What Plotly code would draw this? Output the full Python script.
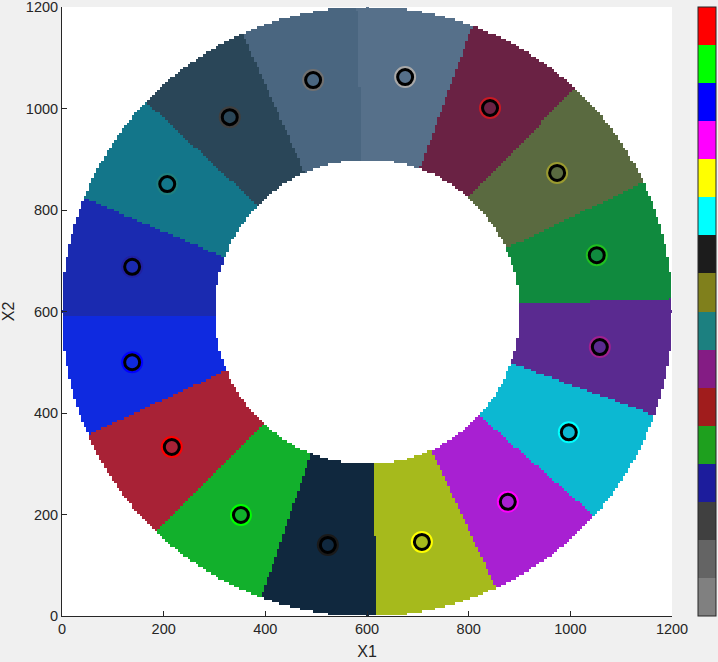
import numpy as np
import plotly.graph_objects as go

# cluster centroids, going clockwise from the top
cent_x = [675, 842, 974, 1052, 1058, 997, 877, 708, 523, 352, 216, 138, 138, 207, 330, 494]
cent_y = [1062, 1001, 873, 711, 530, 362, 225, 146, 140, 199, 333, 500, 688, 851, 983, 1056]

# colour of each cluster's region and of the halo round its centroid
region_colors = ["#56708a", "#6a2244", "#5a6a40", "#108a3e", "#5a2a90", "#0cb8d2",
                 "#a820d2", "#a6ba1c", "#10283e", "#12b02c", "#a82236", "#0f2ae0",
                 "#1a2ab0", "#13768a", "#2a4658", "#4a6680"]
halo_colors = ["#a8a8a8", "#c81a24", "#9a9a30", "#20c020", "#a02090", "#00ffff",
               "#ff00ff", "#ffff00", "#1a1a1a", "#00ff00", "#ff0000", "#0000ff",
               "#2020a0", "#208080", "#404040", "#707070"]

# colorbar entries, bottom to top
bar_colors = ["#808080", "#646464", "#404040", "#1c1c9c", "#1ea01e", "#a01c1c",
              "#841c84", "#1c8080", "#80801c", "#1c1c1c", "#00ffff", "#ffff00",
              "#ff00ff", "#0000ff", "#00ff00", "#ff0000"]

ticks = [0, 200, 400, 600, 800, 1000, 1200]

# ring of grid points
center = (600, 600)
r_inner, r_outer = 300, 600
step = 5

gx = np.arange(0, 1200 + step, step)
gy = np.arange(0, 1200 + step, step)
X, Y = np.meshgrid(gx, gy)
R = np.hypot(X - center[0], Y - center[1])
cx = np.array(cent_x)[:, None, None]
cy = np.array(cent_y)[:, None, None]
label = np.argmin((X - cx) ** 2 + (Y - cy) ** 2, axis=0).astype(float)
label[(R < r_inner) | (R > r_outer)] = np.nan

n = len(region_colors)
scale = []
for i, c in enumerate(region_colors):
    scale += [[i / n, c], [(i + 1) / n, c]]

fig = go.Figure()
fig.add_trace(go.Heatmap(x=gx, y=gy, z=label, zmin=-0.5, zmax=n - 0.5,
                         colorscale=scale, showscale=False, hoverinfo="skip"))

fig.add_trace(go.Scatter(x=cent_x, y=cent_y, mode="markers", showlegend=False,
                         marker=dict(symbol="circle-open", size=18,
                                     line=dict(color=halo_colors, width=4), color=halo_colors)))
fig.add_trace(go.Scatter(x=cent_x, y=cent_y, mode="markers", showlegend=False,
                         marker=dict(symbol="circle-open", size=15, color="black",
                                     line=dict(color="black", width=3))))

m = len(bar_colors)
bscale = []
for i, c in enumerate(bar_colors):
    bscale += [[i / m, c], [(i + 1) / m, c]]
fig.add_trace(go.Scatter(x=[None], y=[None], mode="markers", showlegend=False,
                         marker=dict(color=[0], cmin=0, cmax=m, colorscale=bscale, showscale=True,
                                     colorbar=dict(x=1.0426, xanchor="left", y=0.5, len=1.0,
                                                   thickness=18, thicknessmode="pixels",
                                                   lenmode="fraction", showticklabels=False,
                                                   ticks="", outlinecolor="#262626",
                                                   outlinewidth=1, xpad=0, ypad=0))))

axis_style = dict(range=[0, 1200], tickvals=ticks, ticks="inside", ticklen=5,
                  tickcolor="#262626", showline=True, linecolor="#262626", linewidth=1,
                  showgrid=False, zeroline=False, mirror=False,
                  ticklabeloverflow="allow",
                  tickfont=dict(size=14.5, color="#262626"))
fig.update_xaxes(**axis_style, title=dict(text="X1", standoff=9,
                                          font=dict(size=16, color="#262626")))
fig.update_yaxes(**axis_style, title=dict(text="X2", standoff=8,
                                          font=dict(size=16, color="#262626")))

fig.update_layout(
    width=718, height=662,
    margin=dict(l=62, r=46, t=7, b=46, autoexpand=False),
    paper_bgcolor="#f0f0f0", plot_bgcolor="white",
    font=dict(family="Liberation Sans, Arial, sans-serif"),
    showlegend=False,
)
fig.write_html("out.html", config={"displayModeBar": False},
               post_script="document.body.style.margin='0';")
